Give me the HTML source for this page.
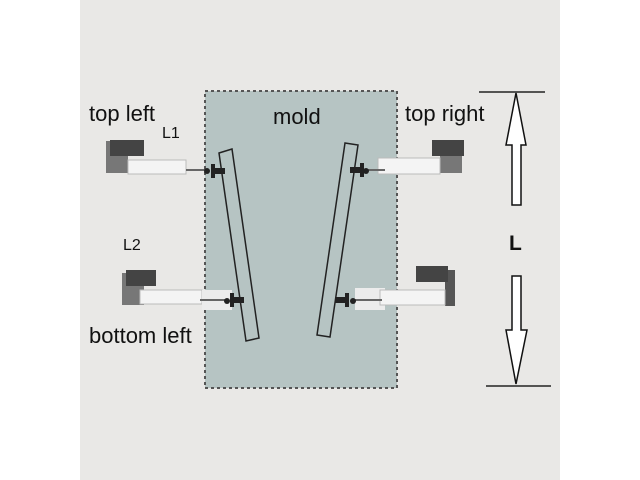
<!DOCTYPE html>
<html><head><meta charset="utf-8"><style>
body{margin:0;background:#fff;}
svg{display:block}
text{font-family:"Liberation Sans",sans-serif;fill:#111}
</style></head><body>
<svg width="640" height="480" viewBox="0 0 640 480">
<rect x="80" y="0" width="480" height="480" fill="#e9e8e6"/>
<rect x="205" y="91" width="192" height="297" fill="#b6c4c3" stroke="#555" stroke-width="2" stroke-dasharray="3,3"/>
<polygon points="219,153 232,149 259,338 246,341" fill="#b6c4c3" stroke="#222" stroke-width="1.5"/>
<polygon points="345,143 358,145 330,337 317,335" fill="#b6c4c3" stroke="#222" stroke-width="1.5"/>
<rect x="106" y="141" width="22" height="32" fill="#777"/>
<rect x="110" y="140" width="34" height="16" fill="#444"/>
<rect x="128" y="160" width="58" height="14" fill="#f4f4f4" stroke="#bbb"/>
<line x1="186" y1="170" x2="205" y2="170" stroke="#666" stroke-width="2"/>
<circle cx="207" cy="171" r="3" fill="#222"/>
<rect x="211" y="164" width="4" height="14" fill="#222"/>
<rect x="215" y="168" width="10" height="6" fill="#222"/>
<rect x="122" y="273" width="22" height="32" fill="#777"/>
<rect x="126" y="270" width="30" height="16" fill="#444"/>
<rect x="140" y="290" width="62" height="14" fill="#f4f4f4" stroke="#bbb"/>
<rect x="202" y="290" width="30" height="20" fill="#ececec"/>
<line x1="200" y1="300" x2="225" y2="300" stroke="#666" stroke-width="2"/>
<circle cx="227" cy="301" r="3" fill="#222"/>
<rect x="230" y="293" width="4" height="14" fill="#222"/>
<rect x="234" y="297" width="10" height="6" fill="#222"/>
<rect x="440" y="141" width="22" height="32" fill="#777"/>
<rect x="432" y="140" width="32" height="16" fill="#444"/>
<rect x="378" y="158" width="62" height="16" fill="#f4f4f4" stroke="#bbb"/>
<line x1="365" y1="170" x2="385" y2="170" stroke="#666" stroke-width="2"/>
<circle cx="366" cy="171" r="3" fill="#222"/>
<rect x="360" y="163" width="4" height="14" fill="#222"/>
<rect x="350" y="167" width="10" height="6" fill="#222"/>
<rect x="445" y="270" width="10" height="36" fill="#555"/>
<rect x="416" y="266" width="32" height="16" fill="#444"/>
<rect x="355" y="288" width="30" height="22" fill="#ececec"/>
<rect x="380" y="290" width="65" height="15" fill="#f4f4f4" stroke="#bbb"/>
<line x1="355" y1="300" x2="382" y2="300" stroke="#666" stroke-width="2"/>
<circle cx="353" cy="301" r="3" fill="#222"/>
<rect x="345" y="293" width="4" height="14" fill="#222"/>
<rect x="335" y="297" width="10" height="6" fill="#222"/>
<line x1="479" y1="92" x2="545" y2="92" stroke="#222" stroke-width="1.5"/>
<line x1="486" y1="386" x2="551" y2="386" stroke="#222" stroke-width="1.5"/>
<polygon points="516,93 526,145 521,145 521,205 512,205 512,145 506,145" fill="#fff" stroke="#111" stroke-width="1.5"/>
<polygon points="516,384 527,330 521,330 521,276 512,276 512,330 506,330" fill="#fff" stroke="#111" stroke-width="1.5"/>
<text x="89" y="121" font-size="22">top left</text>
<text x="162" y="138" font-size="16">L1</text>
<text x="273" y="124" font-size="22">mold</text>
<text x="405" y="121" font-size="22">top right</text>
<text x="123" y="250" font-size="16">L2</text>
<text x="89" y="343" font-size="22">bottom left</text>
<text x="509" y="250" font-size="21" font-weight="bold">L</text>
</svg>
</body></html>
